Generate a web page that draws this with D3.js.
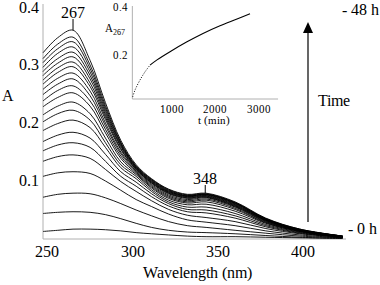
<!DOCTYPE html>
<html>
<head>
<meta charset="utf-8">
<script src="https://cdn.jsdelivr.net/npm/d3@7/dist/d3.min.js"></script>
<style>
  @font-face { font-family: 'ChartSerif'; src: local('Liberation Serif'), local('LiberationSerif'), local('LiberationSerif-Regular'), local('DejaVu Serif'), local('DejaVuSerif'), local('Noto Serif'), local('NotoSerif-Regular'); }
  body { margin: 0; background: #fff; }
  svg text { font-family: 'ChartSerif', 'Liberation Serif', 'DejaVu Serif', serif; }
  .axis { stroke: #b0b0b0; stroke-width: 1; fill: none; }
  .spec { fill: none; stroke: #000; stroke-width: 0.9; }
</style>
</head>
<body>
<div class="wrapper"></div>
<script>
const wavelengths = [247.4, 256, 265, 275, 284, 293, 302, 311, 321, 332, 343, 360, 378, 398, 423]

// absorbance spectra, 0 h (first) to 48 h (last)
const spectra = [
  [.013, .015, .017, .017, .016, .014, .011, .009, .007, .005, .004, .004, .003, .002, .001],
  [.044, .046, .047, .046, .042, .035, .027, .020, .015, .012, .011, .009, .006, .003, .001],
  [.072, .077, .079, .078, .071, .061, .050, .040, .030, .023, .020, .015, .010, .005, .002],
  [.108, .114, .116, .113, .100, .084, .068, .056, .043, .033, .029, .023, .014, .007, .002],
  [.134, .142, .145, .139, .120, .099, .082, .066, .051, .041, .037, .030, .018, .009, .003],
  [.152, .162, .166, .158, .134, .108, .091, .073, .057, .047, .045, .036, .021, .010, .003],
  [.168, .179, .184, .174, .146, .116, .098, .078, .061, .051, .050, .040, .023, .011, .003],
  [.187, .199, .205, .192, .158, .123, .104, .082, .064, .055, .055, .044, .025, .012, .003],
  [.202, .216, .222, .205, .166, .128, .108, .085, .067, .059, .060, .048, .027, .013, .004],
  [.214, .229, .236, .216, .174, .133, .111, .088, .070, .062, .064, .051, .028, .013, .004],
  [.228, .244, .252, .229, .183, .139, .113, .090, .072, .064, .067, .053, .029, .014, .004],
  [.238, .256, .264, .238, .189, .143, .115, .092, .074, .066, .069, .055, .030, .014, .004],
  [.249, .267, .276, .247, .195, .147, .117, .094, .076, .068, .071, .056, .031, .014, .004],
  [.258, .277, .286, .255, .200, .150, .119, .096, .078, .070, .072, .057, .032, .015, .004],
  [.267, .287, .297, .263, .206, .154, .120, .097, .079, .071, .073, .058, .032, .015, .004],
  [.274, .295, .305, .269, .210, .156, .121, .098, .080, .072, .074, .059, .033, .015, .004],
  [.282, .303, .314, .276, .214, .159, .122, .099, .081, .073, .075, .060, .033, .016, .004],
  [.289, .311, .322, .282, .218, .161, .123, .100, .082, .074, .076, .061, .034, .016, .005],
  [.296, .320, .331, .288, .222, .163, .124, .101, .083, .074, .077, .062, .034, .016, .005],
  [.304, .328, .340, .294, .226, .165, .125, .102, .084, .075, .077, .062, .035, .016, .005],
  [.311, .336, .348, .300, .230, .167, .126, .103, .085, .076, .078, .063, .035, .017, .005],
  [.321, .347, .360, .308, .235, .170, .128, .104, .086, .077, .079, .064, .036, .017, .005]
]

const xTicks = [250, 300, 350, 400]
const yTicks = [0.1, 0.2, 0.3, 0.4]

// inset: A267 against time
const timeMin = [108, 161, 276, 391, 506, 667, 966, 1356, 1724, 2115, 2506, 2805]
const a267 = [0.026, 0.054, 0.096, 0.130, 0.158, 0.180, 0.214, 0.255, 0.290, 0.322, 0.350, 0.372]
const insetXTicks = [1000, 2000, 3000]
const insetYTicks = [0.2, 0.4]

// peak markers
const peaks = [{pos: 265, label: '267', top: 19, bottom: 30}, {pos: 342.5, label: '348', top: 185, bottom: 193}]

let width = 380, height = 285

let svg = d3.select('.wrapper').append('svg')
.attr('width', width)
.attr('height', height)

let x = d3.scaleLinear().domain([247.4, 425]).range([43, 346])
let y = d3.scaleLinear().domain([0, 0.4]).range([239, 7])

// axes lines (no ticks)
svg.append('line').attr('class', 'axis')
.attr('x1', 43).attr('x2', 43).attr('y1', 4).attr('y2', y(0))
svg.append('line').attr('class', 'axis')
.attr('x1', 43).attr('x2', x(425)).attr('y1', y(0)).attr('y2', y(0))

svg.append('g').selectAll('text')
.data(xTicks)
.enter()
.append('text')
.attr('x', d => x(d))
.attr('y', 257)
.attr('text-anchor', 'middle')
.attr('font-size', 16)
.text(d => d)

svg.append('g').selectAll('text')
.data(yTicks)
.enter()
.append('text')
.attr('x', 39)
.attr('y', d => Math.max(y(d) + 5, 13))
.attr('text-anchor', 'end')
.attr('font-size', 16)
.text(d => d3.format('.1f')(d))

svg.append('text')
.attr('x', 197).attr('y', 278)
.attr('text-anchor', 'middle')
.attr('font-size', 16)
.text('Wavelength (nm)')

svg.append('text')
.attr('x', 8).attr('y', 101)
.attr('text-anchor', 'middle')
.attr('font-size', 16)
.text('A')

let line = d3.line()
.x((d, i) => x(wavelengths[i]))
.y(d => y(d))
.curve(d3.curveCatmullRom.alpha(0.5))

svg.append('g').selectAll('path')
.data(spectra)
.enter()
.append('path')
.attr('class', 'spec')
.attr('d', line)

// peak labels
peaks.forEach(p => {
	svg.append('line')
	.attr('x1', x(p.pos)).attr('x2', x(p.pos))
	.attr('y1', p.top).attr('y2', p.bottom)
	.attr('stroke', '#000').attr('stroke-width', 1)
	svg.append('text')
	.attr('x', x(p.pos)).attr('y', p.top - 1)
	.attr('text-anchor', 'middle')
	.attr('font-size', 16)
	.text(p.label)
})

// time arrow
svg.append('line')
.attr('x1', 308).attr('x2', 308).attr('y1', 222).attr('y2', 30)
.attr('stroke', '#000').attr('stroke-width', 1.2)
svg.append('path')
.attr('d', 'M308,22 L303,33 L313,33 Z')
.attr('fill', '#000')

svg.append('text').attr('x', 318).attr('y', 106).attr('font-size', 16).text('Time')
svg.append('text').attr('x', 342).attr('y', 15).attr('font-size', 16).text('- 48 h')
svg.append('text').attr('x', 348).attr('y', 234).attr('font-size', 16).text('- 0 h')

// inset
let ix = d3.scaleLinear().domain([0, 1000]).range([128, 171.5])
let iy = d3.scaleLinear().domain([0.017, 0.4]).range([99, 7])
let inset = svg.append('g')

inset.append('line').attr('class', 'axis')
.attr('x1', ix(100)).attr('x2', ix(100)).attr('y1', 6).attr('y2', iy(0.017))
inset.append('line').attr('class', 'axis')
.attr('x1', ix(100)).attr('x2', ix(3450)).attr('y1', iy(0.017)).attr('y2', iy(0.017))

inset.selectAll('.ixt')
.data(insetXTicks)
.enter()
.append('text')
.attr('x', d => ix(d))
.attr('y', 113)
.attr('text-anchor', 'middle')
.attr('font-size', 11)
.text(d => d)

inset.selectAll('.iyt')
.data(insetYTicks)
.enter()
.append('text')
.attr('x', 128)
.attr('y', d => iy(d) + 4)
.attr('text-anchor', 'end')
.attr('font-size', 11)
.text(d => d3.format('.1f')(d))

let aLab = inset.append('text').attr('x', 105).attr('y', 32).attr('font-size', 11)
aLab.append('tspan').text('A')
aLab.append('tspan').attr('font-size', 8).attr('dy', 3).text('267')

inset.append('text')
.attr('x', 214).attr('y', 124)
.attr('text-anchor', 'middle')
.attr('font-size', 11)
.text('t (min)')

let pts = timeMin.map((t, i) => [t, a267[i]])
let iline = d3.line()
.x(d => ix(d[0]))
.y(d => iy(d[1]))
.curve(d3.curveCatmullRom.alpha(0.5))

// early readings are sparse -> dotted, later dense -> solid
inset.append('path')
.attr('d', iline(pts.slice(0, 5)))
.attr('fill', 'none').attr('stroke', '#000').attr('stroke-width', 1)
.attr('stroke-dasharray', '1,1.6')
inset.append('path')
.attr('d', iline(pts.slice(4)))
.attr('fill', 'none').attr('stroke', '#000').attr('stroke-width', 1.1)
</script>
</body>
</html>
